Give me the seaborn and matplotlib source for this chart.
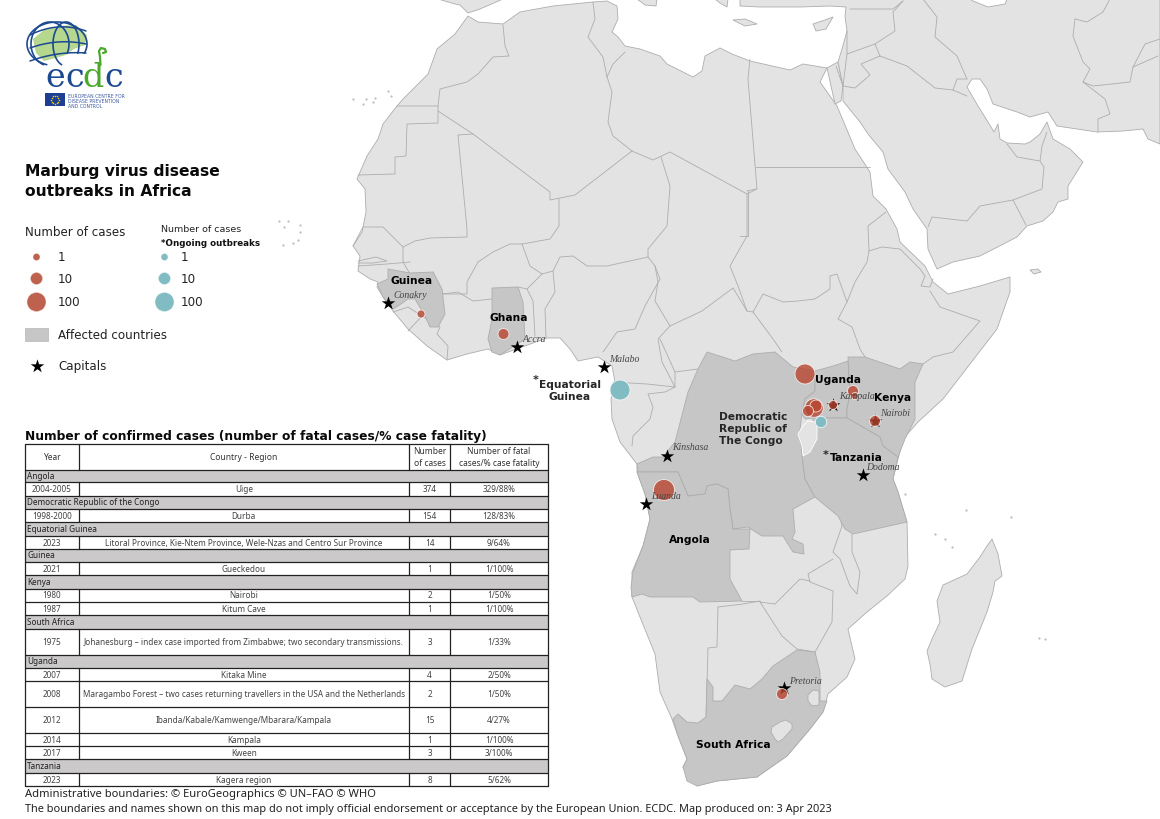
import numpy as np
import pandas as pd
import matplotlib
matplotlib.use("Agg")
import matplotlib.pyplot as plt
from matplotlib.patches import Rectangle, Polygon
import seaborn as sns

# ---------- table data ----------
table_groups = [
    ("Angola", [("2004-2005", "Uige", "374", "329/88%")]),
    ("Democratic Republic of the Congo", [("1998-2000", "Durba", "154", "128/83%")]),
    ("Equatorial Guinea", [("2023", "Litoral Province, Kie-Ntem Province, Wele-Nzas and Centro Sur Province", "14", "9/64%")]),
    ("Guinea", [("2021", "Gueckedou", "1", "1/100%")]),
    ("Kenya", [("1980", "Nairobi", "2", "1/50%"), ("1987", "Kitum Cave", "1", "1/100%")]),
    ("South Africa", [("1975", "Johanesburg \u2013 index case imported from Zimbabwe; two secondary transmissions.", "3", "1/33%")]),
    ("Uganda", [("2007", "Kitaka Mine", "4", "2/50%"),
                ("2008", "Maragambo Forest \u2013 two cases returning travellers in the USA and the Netherlands", "2", "1/50%"),
                ("2012", "Ibanda/Kabale/Kamwenge/Mbarara/Kampala", "15", "4/27%"),
                ("2014", "Kampala", "1", "1/100%"),
                ("2017", "Kween", "3", "3/100%")]),
    ("Tanzania", [("2023", "Kagera region", "8", "5/62%")]),
]
table_row_edges = [470.5, 483, 496.5, 510, 523, 537, 549.5, 563, 576, 589.5, 602.5, 616, 629.5, 655.5,
                   668.5, 682, 708, 734, 747, 760, 773.5, 787]
table_col_edges = [25, 78.5, 409, 450, 548]

# ---------- outbreaks (map pixel positions, cases) ----------
past_x = [421, 503.5, 664, 805, 814, 816, 808, 853, 855, 833, 875, 782]
past_y = [315, 335, 491, 375, 409, 407, 412, 392, 397, 406, 422, 695]
past_radius = [4, 5.5, 10.5, 10, 9.3, 6, 5.5, 5.5, 3.5, 4.5, 5.5, 5.5]
ongoing_x = [620, 821]
ongoing_y = [391, 423]
ongoing_radius = [10, 5.7]

capital_names = ["Conakry", "Accra", "Malabo", "Kinshasa", "Luanda", "Kampala", "Nairobi", "Dodoma", "Pretoria"]
capital_x = [388, 517, 604, 667, 646, 833, 875, 863, 784]
capital_y = [304, 348, 368, 457, 505, 406, 422, 476, 689]
capital_label_x = [393, 523, 609, 672, 651, 839, 880, 866, 789]
capital_label_y = [296, 340, 360, 448, 497, 397, 414, 468, 682]

country_labels = [("Guinea", 412, 281), ("Ghana", 509, 318), ("Uganda", 838, 380),
                  ("Kenya", 892.5, 398.5), ("Angola", 690, 540), ("South Africa", 733, 745.5),
                  ("Tanzania", 856.5, 458)]

# ---------- geography ----------
africa = [(468,17),(478,23),(503,25),(520,13),(553,7),(593,3),(607,2),(617,7),(618,20),(612,33),(618,38),(625,47),
 (640,50),(660,57),(667,65),(693,78),(702,72),(705,57),(720,49),(732,55),(750,62),(790,71),(803,65),(827,69),
 (820,83),(837,107),(855,150),(870,173),(873,197),(886,210),(897,230),(900,243),(925,267),(933,283),(948,295),
 (980,287),(1010,278),(1010,293),(997,330),(943,400),(918,423),(903,440),(898,460),(893,480),(898,493),(907,523),
 (908,567),(905,580),(887,597),(867,613),(848,630),(855,660),(847,678),(828,695),(823,713),(810,730),(787,757),
 (757,778),(717,782),(697,787),(683,768),(687,760),(678,737),(672,720),(660,693),(655,655),(642,623),(632,598),
 (632,573),(643,547),(650,520),(645,495),(637,473),(637,465),(620,443),(612,420),(611,400),(615,383),(612,367),
 (598,358),(578,362),(570,350),(560,339),(547,339),(522,348),(500,356),(488,350),(467,355),(447,361),(427,347),
 (408,330),(393,312),(383,298),(377,288),(378,283),(370,280),(358,272),(360,257),(353,247),(362,233),(366,213),
 (365,190),(357,180),(367,157),(378,140),(383,125),(397,107),(403,100),(428,75),(437,50),(455,35)]
sinai = [(827,69),(838,63),(843,87),(841,102),(835,105)]
asia = [(843,87),(843,102),(860,123),(868,135),(883,153),(888,170),(905,193),(913,210),(927,230),(928,250),(937,270),
 (953,263),(980,257),(1017,238),(1027,227),(1043,222),(1053,213),(1058,203),(1068,200),(1068,187),(1083,163),
 (1070,150),(1053,140),(1047,123),(1040,135),(1030,143),(1025,145),(1007,144),(1000,140),(998,125),(994,133),
 (988,123),(978,107),(967,88),(972,80),(980,80),(987,90),(993,105),(1017,113),(1030,118),(1048,113),(1057,127),
 (1097,133),(1123,132),(1143,130),(1148,140),(1160,145),(1160,0),(1007,0),(1005,5),(988,8),(973,2),(970,0),
 (740,0),(740,7),(760,8),(800,8),(830,7),(846,8),(845,17),(847,32),(842,50),(838,63)]
madagascar = [(992,540),(998,555),(1002,577),(995,582),(993,593),(987,613),(972,650),(962,682),(945,688),(932,680),
 (930,665),(927,652),(932,640),(940,623),(937,602),(943,586),(967,575),(980,558),(987,547)]
spain = [(438,0),(455,5),(460,6),(468,14),(480,10),(503,0)]
sicily = [(637,0),(657,0),(656,7),(645,6)]
greece = [(715,0),(728,0),(727,8),(720,4)]
crete = [(733,21),(745,20),(757,25),(745,27)]
cyprus = [(813,25),(825,21),(833,18),(826,30),(816,32)]
socotra = [(1030,271),(1038,270),(1041,273),(1034,275)]
small_isles = [(353,100),(366,100),(375,99),(373,103),(391,97),(388,92),(363,105),(279,222),(284,228),(288,222),(300,226),(300,233),(283,246),(293,244),(298,241),
    (1045,640),(935,535),(945,540),(952,548),(1011,518),(966,511),(905,495),(1039,639)]

borders = [
 [(503,26),(505,47),(509,57),(493,58),(478,75),(467,83),(440,90),(438,107)],
 [(397,107),(438,107),(438,124),(407,125),(406,157),(395,158),(395,175),(358,176)],
 [(438,112),(473,135),(530,178),(550,193),(550,201),(575,196),(632,152)],
 [(473,135),(458,136),(467,230),(467,238),(430,239),(415,242),(403,248),(383,228),(363,228),(353,247)],
 [(403,248),(403,263),(410,275)],
 [(433,273),(443,295),(458,293),(473,302),(492,300)],
 [(443,295),(467,295),(467,283),(478,263),(493,253),(510,245),(522,245),(550,240),(559,227),(559,200)],
 [(522,245),(530,267),(542,275),(553,272),(560,258),(573,257),(587,267),(607,267),(648,258),(648,250),(667,227),(670,187),(661,158)],
 [(632,152),(653,161),(670,153),(747,195),(747,237),(730,267),(738,287),(747,312)],
 [(750,60),(748,80),(757,190),(747,195)],
 [(756,168),(870,168)],
 [(756,190),(747,192)],[(748,192),(748,237),(740,237)],
 [(607,78),(612,93),(608,123),(613,137),(632,152)],
 [(593,3),(595,20),(588,38),(603,58),(607,78)],
 [(625,53),(613,65),(607,78)],
 [(648,258),(655,267),(660,280),(645,307),(635,330),(617,333),(603,353)],
 [(546,339),(545,310),(555,293),(553,272)],
 [(535,337),(533,302),(527,290),(542,275)],
 [(518,288),(527,290)],
 [(408,332),(422,317),(440,328),(437,335),(448,347),(447,361)],
 [(393,313),(408,308),(422,317)],
 [(358,267),(387,265),(410,263)],
 [(358,262),(376,258),(387,262),(373,264),(358,264)],
 [(655,267),(658,283),(655,302),(670,327),(658,340),(662,363),(675,388)],
 [(670,327),(702,312),(733,289),(747,312)],
 [(613,383),(647,385),(675,388),(665,393),(648,395),(653,408),(650,420),(633,437),(632,447)],
 [(675,388),(675,373),(660,340)],
 [(675,373),(698,370)],
 [(747,312),(753,313),(763,295),(783,303),(798,302),(815,300),(830,290),(830,277),(837,275),(847,303),(838,320),(852,328),(860,350),(865,358)],
 [(753,313),(773,340),(782,353)],
 [(847,303),(855,283),(867,263),(869,252),(868,227),(886,213)],
 [(869,252),(882,248),(900,250),(920,270),(925,277)],
 [(925,277),(921,287),(930,288),(933,280)],
 [(930,292),(940,308),(980,322),(953,353),(933,358),(923,365)],
 [(928,228),(932,218),(967,222),(980,207),(1013,201),(1042,190),(1044,168),(1040,162),(1017,158),(1007,145)],
 [(1013,201),(1026,226)],
 [(1040,162),(1042,147),(1047,133)],
 [(843,87),(855,89),(870,76),(861,65),(880,57),(907,67),(935,89),(953,91),(967,97)],
 [(953,91),(957,80),(967,80)],
 [(847,55),(875,45),(880,57)],[(836,67),(843,87),(847,55),(847,32)],
 [(875,45),(895,32),(893,13),(903,2)],[(850,10),(893,10),(903,2)],
 [(923,0),(937,18),(935,38),(957,57),(967,80)],
 [(1075,20),(1073,37),(1083,63),(1090,70),(1083,83),(1105,100),(1110,115),(1098,120),(1098,133)],
 [(1083,83),(1093,87),(1130,83),(1133,68),(1158,57)],
 [(1075,20),(1087,23),(1103,13),(1110,0)],[(1160,40),(1145,45),(1133,68)],
 [(840,517),(842,527),(833,553),(840,560),(850,587),(857,595),(860,573),(852,553),(852,535)],
 [(833,560),(808,575),(810,583),(833,592),(832,623),(815,653),(797,650),(782,637),(760,603),(775,605),(800,580),(810,582)],
 [(718,608),(717,648),(708,649),(706,720)],[(718,608),(743,605),(760,602)],
 [(742,602),(760,602)],
]

drc = [(707,353),(735,362),(753,355),(775,353),(793,368),(815,372),(815,392),(805,400),(802,415),(800,430),(802,457),(805,480),(815,498),
 (793,510),(795,533),(792,540),(803,545),(804,555),(793,553),(783,537),(762,537),(748,528),(733,530),(730,510),(728,490),(717,485),
 (707,487),(705,495),(688,497),(678,473),(638,473),(637,465),(653,458),(663,458),(675,443),(688,393),(698,370)]
angola = [(637,473),(678,473),(688,497),(705,495),(707,487),(717,485),(728,490),(730,510),(733,530),(750,530),(749,550),(730,551),(730,580),
 (742,602),(700,603),(693,598),(650,598),(642,595),(632,598),(631,588),(633,573),(643,547),(650,520),(645,495)]
uganda = [(815,372),(833,367),(848,362),(850,395),(847,410),(847,419),(812,419),(805,420),(802,415),(805,400),(815,392)]
kenya = [(848,358),(865,358),(900,370),(910,363),(923,365),(915,383),(915,420),(905,440),(898,458),(883,447),(880,438),(847,419),(847,410),(850,395)]
tanzania = [(812,419),(847,419),(880,438),(883,447),(898,458),(893,480),(898,493),(907,523),(853,535),(845,530),(838,517),(815,498),(805,480),(802,457),(810,440),(815,425)]
guinea = [(388,270),(410,274),(433,273),(442,290),(445,315),(438,328),(430,328),(425,317),(415,300),(408,300),(398,307),(393,310),(383,298),(377,285),(388,280)]
ghana = [(492,289),(518,288),(523,303),(525,340),(500,356),(492,353),(488,340),(492,320)]
south_africa = [(673,720),(678,715),(687,723),(698,724),(706,718),(707,680),(713,688),(713,702),(722,702),(735,686),(750,690),(762,680),(773,667),
 (797,651),(815,653),(820,673),(820,702),(827,702),(823,713),(810,730),(787,757),(757,778),(717,782),(697,787),(687,782),(683,768),(687,760),(678,737)]
rwanda_burundi = [(803,427),(808,422),(817,423),(817,440),(810,453),(803,457),(802,447),(798,435)]
eswatini = [(813,691),(819,692),(819,706),(812,707),(808,702),(808,696)]
lesotho = [(772,728),(780,723),(786,721),(792,725),(792,730),(783,740),(778,743),(775,740),(771,733)]

# ---------- colours ----------
LAND, AFFECTED, EDGE = "#e3e3e3", "#c6c6c6", "#adadad"
RED, TEAL = "#bb5a45", "#82bcc3"

sns.set_theme(style="white")
plt.rcParams["font.family"] = ["DejaVu Sans"]

fig = plt.figure(figsize=(11.6, 8.2), dpi=100, facecolor="white")
ax = fig.add_axes([0, 0, 1, 1])
ax.set_xlim(0, 1160)
ax.set_ylim(820, 0)
ax.axis("off")

def poly(pts, fc=LAND, ec=EDGE, lw=0.6, z=1):
    ax.add_patch(Polygon(pts, closed=True, facecolor=fc, edgecolor=ec, linewidth=lw, zorder=z, joinstyle="round"))

for p in [africa, sinai, asia, madagascar, spain, sicily, greece, crete, cyprus, socotra]:
    poly(p)
for b in borders:
    a = np.array(b)
    ax.plot(a[:, 0], a[:, 1], color=EDGE, lw=0.6, zorder=2, solid_joinstyle="round")
iso = np.array(small_isles)
sns.scatterplot(x=iso[:, 0], y=iso[:, 1], s=2.5, color="#bbbbbb", linewidth=0, ax=ax, zorder=2, legend=False)
for p in [drc, angola, uganda, kenya, tanzania, guinea, ghana, south_africa]:
    poly(p, fc=AFFECTED, z=3)
for p in [rwanda_burundi, eswatini, lesotho]:
    poly(p, fc=LAND, ec="#ffffff" if p is rwanda_burundi else EDGE, z=4)

def px2s(r):
    return (np.asarray(r) * 2 * 0.72) ** 2

# capitals under bubbles
sns.scatterplot(x=capital_x, y=capital_y, marker="*", s=105, color="black", linewidth=0, ax=ax, zorder=5, legend=False)
sns.scatterplot(x=past_x, y=past_y, s=px2s(past_radius), color="#b8462f", alpha=0.8, edgecolor="white", linewidth=0.6, ax=ax, zorder=6, legend=False)
sns.scatterplot(x=ongoing_x, y=ongoing_y, s=px2s(ongoing_radius), color=TEAL, alpha=1, edgecolor="#eef6f7", linewidth=0.6, ax=ax, zorder=6, legend=False)

for name, x, y in zip(capital_names, capital_label_x, capital_label_y):
    ax.text(x, y, name, family="Liberation Serif", style="italic", fontsize=7.0, color="#444444", va="center", ha="left", zorder=7)

for name, x, y in country_labels:
    ax.text(x, y, name, fontweight="bold", fontsize=7.7, color="black", ha="center", va="center", zorder=8)
ax.text(719, 429, "Democratic\nRepublic of\nThe Congo", fontweight="bold", fontsize=7.7, ha="left", va="center", linespacing=1.22, zorder=8)
ax.text(570, 391, "Equatorial\nGuinea", fontweight="bold", fontsize=7.7, ha="center", va="center", linespacing=1.22, zorder=8)
ax.text(536, 380, "*", fontsize=8, fontweight="bold", ha="center", va="center", zorder=8)
ax.text(826, 455, "*", fontsize=8, fontweight="bold", ha="center", va="center", zorder=8)

# ---------- logo ----------
land_logo = [(33,40),(44,31),(60,27),(76,26),(87,36),(85,46),(74,50),(66,56),(52,60),(44,62),(36,54)]
poly(land_logo, fc="#b5d78e", ec="none", z=2)
BLUE = "#1c4a91"
for (cx, w, h) in [(57, 60, 44), (50, 38, 44), (66, 26, 44)]:
    t = np.radians(np.linspace(110, 385, 90))
    ax.plot(cx + w/2*np.cos(t), 45 + h/2*np.sin(t), color=BLUE, lw=1.2, zorder=3)
for y1, y2, bow in [(36, 32, -6), (49, 45, -4), (62, 54, -3)]:
    xs = np.linspace(30, 86, 24)
    u = (xs - 30) / 56
    ax.plot(xs, y1 + (y2 - y1)*u + bow*4*u*(1-u), color=BLUE, lw=1.1, zorder=3)
ax.add_patch(Rectangle((48, 68), 80, 26, facecolor="white", edgecolor="none", zorder=3.5))
for letter, x, col in [("e", 45, BLUE), ("c", 65, BLUE), ("d", 82, "#4aa82a"), ("c", 104, BLUE)]:
    ax.text(x, 87, letter, family="DejaVu Serif", fontsize=24, color=col, ha="left", va="baseline", zorder=4)
stem_x = [100.5, 100, 99, 101, 105, 106, 103]
stem_y = [66, 58, 52, 49, 50, 53, 54]
ax.plot(stem_x, stem_y, color="#4aa82a", lw=1.6, zorder=4)
ax.add_patch(Rectangle((45, 94), 20, 13, facecolor="#1c3f94", edgecolor="none", zorder=4))
t = np.radians(np.arange(0, 360, 30))
sns.scatterplot(x=55+4*np.cos(t), y=100.5+4*np.sin(t), s=1.2, color="#f4d000", linewidth=0, ax=ax, zorder=5, legend=False)
ax.text(68, 101.5, "EUROPEAN CENTRE FOR\nDISEASE PREVENTION\nAND CONTROL", fontsize=3.3, color="#3d5aa0", va="center", ha="left", linespacing=1.05, zorder=4)

# ---------- title and legend ----------
ax.text(25, 181.5, "Marburg virus disease\noutbreaks in Africa", fontweight="bold", fontsize=11.2, va="center", ha="left", linespacing=1.4, color="#0a0a0a")
ax.text(25, 232, "Number of cases", fontsize=8.6, va="center", ha="left", color="#222222")
ax.text(161, 230, "Number of cases", fontsize=6.8, va="center", ha="left", color="#222222")
ax.text(161, 243.5, "*Ongoing outbreaks", fontsize=6.3, fontweight="bold", va="center", ha="left", color="#111111")
legend_labels = ["1", "10", "100"]
legend_y = [258, 279.5, 303]
legend_r = [3.5, 6, 9.5]
sns.scatterplot(x=[36.5]*3, y=legend_y, s=px2s(legend_r), color=RED, alpha=0.95, linewidth=0.3, edgecolor="#f0dcd7", ax=ax, zorder=5, legend=False)
sns.scatterplot(x=[164.5]*3, y=legend_y, s=px2s(legend_r), color=TEAL, linewidth=0.3, edgecolor="#e8f2f3", ax=ax, zorder=5, legend=False)
for lab, y in zip(legend_labels, legend_y):
    ax.text(58, y, lab, fontsize=8.6, va="center", ha="left", color="#222222")
    ax.text(181, y, lab, fontsize=8.6, va="center", ha="left", color="#222222")
ax.add_patch(Rectangle((25, 329), 23, 13, facecolor=AFFECTED, edgecolor="#bdbdbd", linewidth=0.6, zorder=3))
ax.text(58, 336, "Affected countries", fontsize=8.6, va="center", ha="left", color="#222222")
sns.scatterplot(x=[37], y=[367], marker="*", s=105, color="black", linewidth=0, ax=ax, zorder=5, legend=False)
ax.text(58, 367, "Capitals", fontsize=8.6, va="center", ha="left", color="#222222")

# ---------- table ----------
TF = "Noto Sans"
ax.text(25, 437, "Number of confirmed cases (number of fatal cases/% case fatality)", fontweight="bold", fontsize=8.8, va="center", ha="left", color="#0a0a0a")
c = table_col_edges
top = 445
ax.add_patch(Rectangle((c[0], top), c[-1]-c[0], 787-top, facecolor="white", edgecolor="none", zorder=9))
LINE = "#222222"
centers = [(c[i]+c[i+1])/2 for i in range(4)]
hdr = ["Year", "Country - Region", "Number\nof cases", "Number of fatal\ncases/% case fatality"]
for cx, h in zip(centers, hdr):
    ax.text(cx, (top+470.5)/2, h, family=TF, fontsize=6.1, fontweight="bold", ha="center", va="center", color="#333333", zorder=11, linespacing=1.4)
e = table_row_edges
i = 0
ax.plot([c[0], c[-1]], [top, top], color=LINE, lw=0.9, zorder=12)
ax.plot([c[0], c[-1]], [e[0], e[0]], color=LINE, lw=0.9, zorder=12)
for col in (c[1], c[2], c[3]):
    ax.plot([col, col], [top, e[0]], color=LINE, lw=0.9, zorder=12)
for group, rows in table_groups:
    y0, y1 = e[i], e[i+1]
    ax.add_patch(Rectangle((c[0], y0), c[-1]-c[0], y1-y0, facecolor="#cbc9ca", edgecolor="none", zorder=10))
    ax.text(c[0]+2, (y0+y1)/2-0.5, group, family=TF, fontsize=5.9, fontweight="bold", va="center", ha="left", color="#222222", zorder=11)
    ax.plot([c[0], c[-1]], [y1, y1], color=LINE, lw=0.9, zorder=12)
    i += 1
    for row in rows:
        y0, y1 = e[i], e[i+1]
        for cx, val in zip(centers, row):
            ax.text(cx, (y0+y1)/2, val, family=TF, fontsize=5.9, va="center", ha="center", color="#444444", zorder=11)
        ax.plot([c[0], c[-1]], [y1, y1], color=LINE, lw=0.9, zorder=12)
        for col in (c[1], c[2], c[3]):
            ax.plot([col, col], [y0, y1], color=LINE, lw=0.9, zorder=12)
        i += 1
for col in (c[0], c[-1]):
    ax.plot([col, col], [top, e[-1]], color=LINE, lw=0.9, zorder=12)

ax.text(25, 795, "Administrative boundaries: \u00a9 EuroGeographics \u00a9 UN\u2013FAO \u00a9 WHO", fontsize=8.05, family="Noto Sans", va="center", ha="left", color="#222222")
ax.text(25, 809.5, "The boundaries and names shown on this map do not imply official endorsement or acceptance by the European Union. ECDC. Map produced on: 3 Apr 2023",
        fontsize=7.92, family="Noto Sans", va="center", ha="left", color="#222222")

fig.savefig("out.png", dpi=100, facecolor="white")
